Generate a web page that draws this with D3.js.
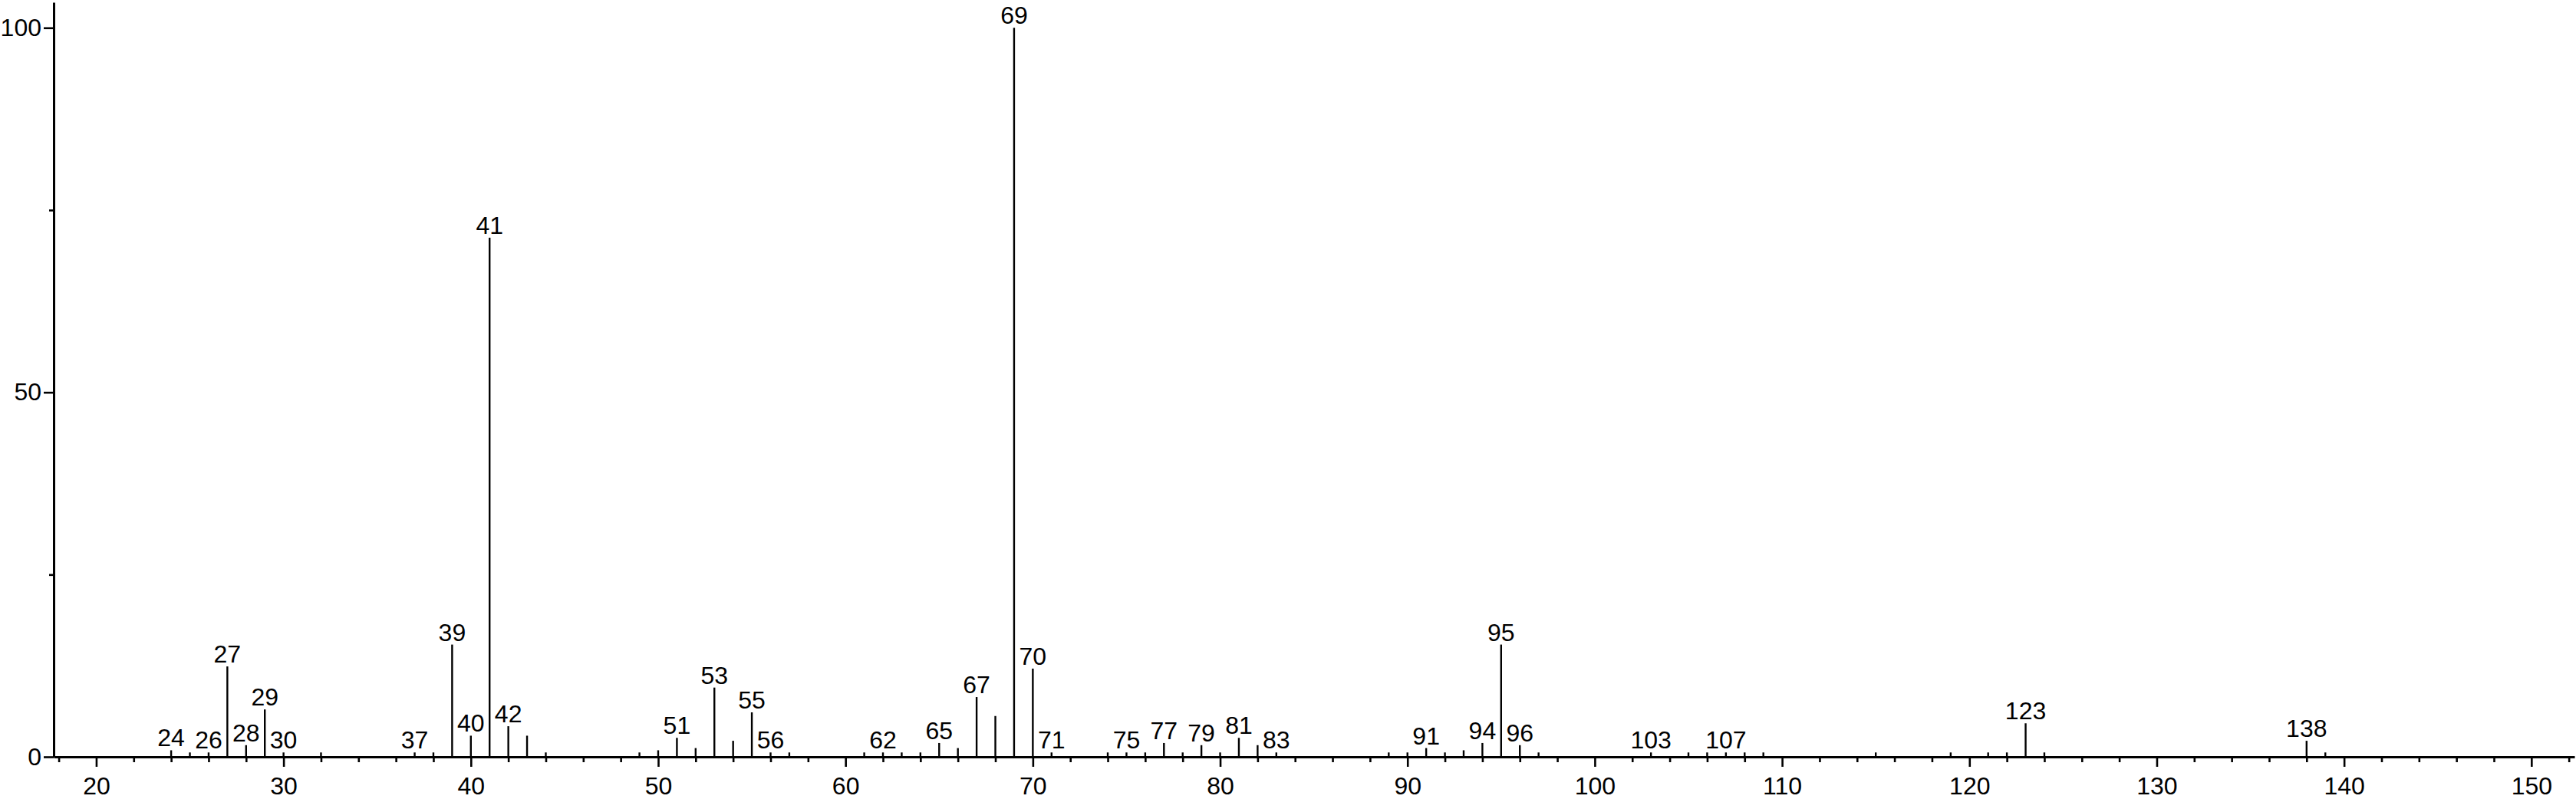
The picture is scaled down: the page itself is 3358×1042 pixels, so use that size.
<!DOCTYPE html>
<html>
<head>
<meta charset="utf-8">
<script src="https://cdn.jsdelivr.net/npm/d3@7"></script>
<style>
  html, body { margin: 0; padding: 0; background: #fff; }
  svg { display: block; font-family: "Liberation Sans", Arial, sans-serif; }
</style>
</head>
<body>
<svg id="chart" width="3358" height="1042"></svg>
<script>
// m/z values of the peaks
const masses = [24,25,26,27,28,29,30,32,37,38,39,40,41,42,43,44,49,50,51,52,53,54,55,56,57,
  61,62,63,64,65,66,67,68,69,70,71,74,75,76,77,78,79,80,81,82,83,89,90,91,92,93,94,95,96,97,
  103,105,106,107,108,109,115,119,121,122,123,124,138,139];
// relative intensities (%)
const intensities = [0.9,0.6,0.6,12.4,1.6,6.5,0.6,0.6,0.6,0.6,15.4,2.9,71.2,4.2,2.9,0.6,0.6,0.9,2.6,1.2,9.5,2.2,6.1,0.6,0.6,
  0.6,0.6,0.6,0.6,1.9,1.2,8.2,5.6,100,12.1,0.6,0.6,0.6,0.6,1.9,0.6,1.6,0.6,2.6,1.6,0.6,0.6,0.6,1.2,0.6,0.9,1.9,15.4,1.6,0.6,
  0.6,0.6,0.6,0.6,0.6,0.6,0.6,0.6,0.6,0.6,4.6,0.6,2.2,0.6];
// peaks that carry a label
const labeledMasses = [24,26,27,28,29,30,37,39,40,41,42,51,53,55,56,62,65,67,69,70,71,75,77,79,81,83,91,94,95,96,103,107,123,138];
// axis ticks
const xMajorTicks = [20,30,40,50,60,70,80,90,100,110,120,130,140,150];
const xMinorTicks = d3.range(18, 153, 2).filter(v => v % 10 !== 0);
const yMajorTicks = [0,50,100];
const yMinorTicks = [25,75];

const peaks = masses.map((m, i) => ({ m, v: intensities[i] }));

const svg = d3.select("#chart");
svg.append("rect").attr("width", 3358).attr("height", 1042).attr("fill", "#fff");

const x = d3.scaleLinear().domain([17.73, 152.3]).range([70, 3356]);
const y = d3.scaleLinear().domain([0, 103.5]).range([987, 3]);

const fontSize = 32;

// peaks
svg.append("g").selectAll("line").data(peaks).join("line")
  .attr("x1", d => x(d.m)).attr("x2", d => x(d.m))
  .attr("y1", y(0)).attr("y2", d => y(d.v))
  .attr("stroke", "#000").attr("stroke-width", 2.4);

// x axis minor ticks
const xMinor = svg.append("g").attr("transform", `translate(0,${y(0)})`)
  .call(d3.axisBottom(x).tickValues(xMinorTicks).tickSize(7).tickFormat(""));
xMinor.select(".domain").remove();
// x axis major
const xAxis = svg.append("g").attr("transform", `translate(0,${y(0)})`)
  .call(d3.axisBottom(x).tickValues(xMajorTicks).tickSize(13).tickPadding(13).tickSizeOuter(0).tickFormat(d3.format("d")));

// y axis
const yMinor = svg.append("g").attr("transform", `translate(${x.range()[0]},0)`)
  .call(d3.axisLeft(y).tickValues(yMinorTicks).tickSize(6).tickFormat(""));
yMinor.select(".domain").remove();
const yAxis = svg.append("g").attr("transform", `translate(${x.range()[0]},0)`)
  .call(d3.axisLeft(y).tickValues(yMajorTicks).tickSize(13).tickPadding(3).tickSizeOuter(0).tickFormat(d3.format("d")));

svg.selectAll(".domain").attr("stroke", "#000").attr("stroke-width", 3);
svg.selectAll(".tick line").attr("stroke", "#000").attr("stroke-width", 2.6);
svg.selectAll(".tick text").attr("fill", "#000")
  .style("font-size", fontSize + "px").style("font-family", "'Liberation Sans', Arial, sans-serif");

// peak labels
svg.append("g").selectAll("text").data(peaks.filter(d => labeledMasses.includes(d.m))).join("text")
  .attr("x", d => x(d.m)).attr("y", d => y(d.v) - 5)
  .attr("text-anchor", "middle")
  .style("font-size", fontSize + "px")
  .attr("fill", "#000")
  .text(d => d.m);
</script>
</body>
</html>
